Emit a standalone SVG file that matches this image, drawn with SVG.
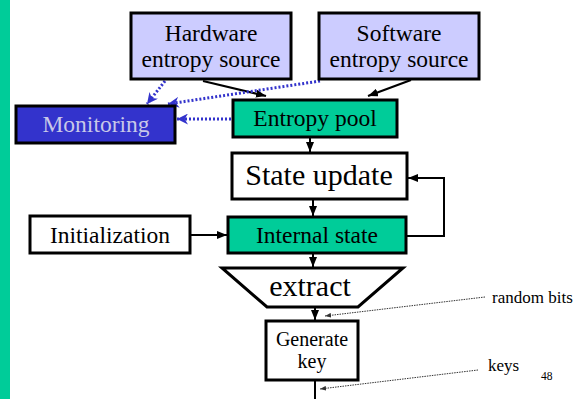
<svg xmlns="http://www.w3.org/2000/svg" width="578" height="399" viewBox="0 0 578 399">
  <style>
    .box { stroke: #000; stroke-width: 3; }
    .src { fill: #CCCCFF; }
    .grn { fill: #00CC99; }
    .wht { fill: #FFFFFF; }
    .mon { fill: #3333CC; }
    .tx text { text-anchor: middle; fill: #000; }
    .t23 { font-size: 23.5px; }
    .t30 { font-size: 30px; }
    .t20 { font-size: 20px; }
    .tx .lbl { font-size: 17px; text-anchor: start; }
    .solid { stroke: #000; stroke-width: 2; fill: none; }
    .blue { stroke: #3333CC; stroke-width: 3; stroke-dasharray: 2 2; fill: none; }
    .thin { stroke: #333; stroke-width: 1; stroke-dasharray: 1.5 1; fill: none; }
  </style>
  <defs>
    <marker id="ah" viewBox="0 0 10 8" refX="10" refY="4" markerWidth="10" markerHeight="8" markerUnits="userSpaceOnUse" orient="auto">
      <path d="M0,0 L10,4 L0,8 z" fill="#000"/>
    </marker>
    <marker id="ahb" viewBox="0 0 10 10" refX="10" refY="5" markerWidth="11" markerHeight="11" markerUnits="userSpaceOnUse" orient="auto">
      <path d="M0,0 L10,5 L0,10 L3,5 z" fill="#3333CC"/>
    </marker>
    <marker id="aht" viewBox="0 0 10 8" refX="10" refY="4" markerWidth="6" markerHeight="5" markerUnits="userSpaceOnUse" orient="auto">
      <path d="M0,0 L10,4 L0,8 z" fill="#333"/>
    </marker>
  </defs>

  <!-- slide accent bar -->
  <rect x="0" y="0" width="10" height="399" fill="#00CC99"/>

  <!-- connectors -->
  <g id="connectors">
    <line class="solid" x1="203" y1="81" x2="266" y2="96" marker-end="url(#ah)"/>
    <line class="solid" x1="411" y1="80" x2="368" y2="96" marker-end="url(#ah)"/>
    <line class="solid" x1="310" y1="138" x2="310" y2="152" marker-end="url(#ah)"/>
    <line class="solid" x1="313" y1="200" x2="313" y2="216" marker-end="url(#ah)"/>
    <line class="solid" x1="313" y1="254" x2="313" y2="267" marker-end="url(#ah)"/>
    <line class="solid" x1="315" y1="308" x2="315" y2="320" marker-end="url(#ah)"/>
    <line class="solid" x1="315" y1="381" x2="315" y2="399"/>
    <line class="solid" x1="191" y1="235" x2="227" y2="235" marker-end="url(#ah)"/>
    <polyline class="solid" points="407,236 444,236 444,178 408,178" stroke-width="3" marker-end="url(#ah)"/>
    <line class="blue" x1="165" y1="81" x2="147" y2="104" marker-end="url(#ahb)"/>
    <line class="blue" x1="320" y1="81" x2="168" y2="104" marker-end="url(#ahb)"/>
    <line class="blue" x1="231" y1="119" x2="177" y2="119" marker-end="url(#ahb)"/>
    <line class="thin" x1="485" y1="297" x2="325" y2="316" marker-end="url(#aht)"/>
    <line class="thin" x1="478" y1="370" x2="320" y2="389" marker-end="url(#aht)"/>
  </g>

  <g class="tx" font-family="'Liberation Serif', 'DejaVu Serif', serif">
    <g id="hardware">
      <rect class="box src" x="131" y="13" width="160" height="66"/>
      <text class="t23" x="211" y="41">Hardware</text>
      <text class="t23" x="211" y="67">entropy source</text>
    </g>

    <g id="software">
      <rect class="box src" x="319" y="13" width="160" height="66"/>
      <text class="t23" x="399" y="41">Software</text>
      <text class="t23" x="399" y="67">entropy source</text>
    </g>

    <g id="monitoring">
      <rect class="box mon" x="16" y="106" width="159" height="37"/>
      <text class="t23" x="96" y="132" style="fill:#C8C8E8">Monitoring</text>
    </g>

    <g id="entropy-pool">
      <rect class="box grn" x="233" y="100" width="164" height="37"/>
      <text class="t23" x="315" y="126">Entropy pool</text>
    </g>

    <g id="state-update">
      <rect class="box wht" x="232" y="153" width="175" height="46"/>
      <text class="t30" x="319" y="185">State update</text>
    </g>

    <g id="initialization">
      <rect class="box wht" x="30" y="216" width="160" height="37"/>
      <text class="t23" x="110" y="243">Initialization</text>
    </g>

    <g id="internal-state">
      <rect class="box grn" x="228" y="217" width="178" height="36"/>
      <text class="t23" x="317" y="243">Internal state</text>
    </g>

    <g id="extract">
      <polygon class="box wht" points="222,268 403,268 358,307 267,307"/>
      <text class="t30" x="310" y="296">extract</text>
    </g>

    <g id="generate-key">
      <rect class="box wht" x="266" y="321" width="92" height="59"/>
      <text class="t20" x="312" y="346">Generate</text>
      <text class="t20" x="312" y="368">key</text>
    </g>

    <g id="labels">
      <text class="lbl" x="492" y="303">random bits</text>
      <text class="lbl" x="488" y="371">keys</text>
      <text class="lbl" x="541" y="380" style="font-size:11.5px">48</text>
    </g>
  </g>
</svg>
